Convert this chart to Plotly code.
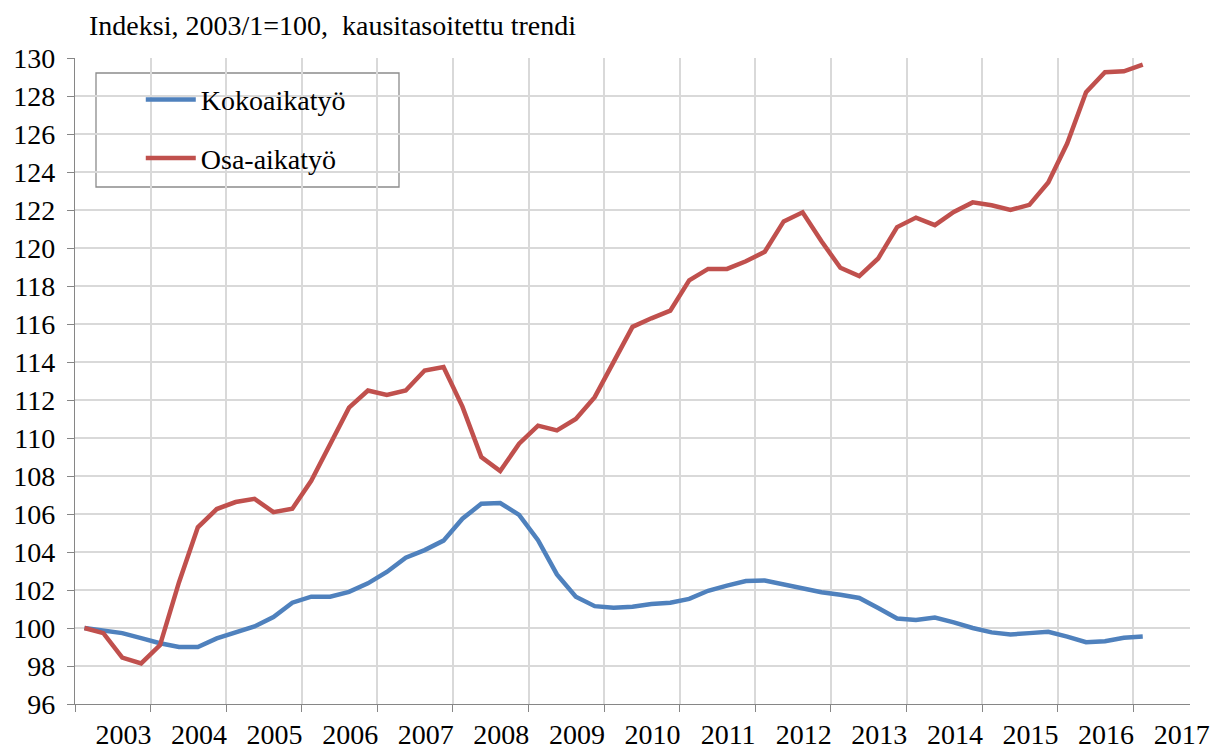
import plotly.graph_objects as go

# Quarterly periods 2003/1 .. 2017/1
periods = [f"{y}/{q}" for y in range(2003, 2017) for q in range(1, 5)] + ["2017/1"]

kokoaikatyo = [
    100.0, 99.88, 99.73, 99.47,
    99.2, 99.0, 99.0, 99.45,
    99.77, 100.08, 100.58, 101.33,
    101.65, 101.65, 101.9, 102.35,
    102.95, 103.7, 104.1, 104.6,
    105.75, 106.54, 106.58, 105.95,
    104.62, 102.82, 101.65, 101.15,
    101.07, 101.12, 101.26, 101.33,
    101.53, 101.96, 102.23, 102.47,
    102.5, 102.3, 102.09, 101.88,
    101.75, 101.58, 101.05, 100.5,
    100.42, 100.55, 100.3, 100.0,
    99.77, 99.66, 99.73, 99.8,
    99.55, 99.25, 99.3, 99.49,
    99.55,
]

osa_aikatyo = [
    100.0, 99.73, 98.44, 98.14,
    99.1, 102.4, 105.3, 106.26,
    106.63, 106.8, 106.1, 106.28,
    107.75, 109.7, 111.6, 112.5,
    112.27, 112.5, 113.55, 113.73,
    111.65, 109.0, 108.26, 109.7,
    110.65, 110.4, 111.0, 112.15,
    114.05, 115.85, 116.3, 116.7,
    118.3, 118.9, 118.9, 119.3,
    119.8, 121.4, 121.88, 120.35,
    118.96, 118.52, 119.45, 121.1,
    121.6, 121.2, 121.9, 122.4,
    122.25, 122.0, 122.27, 123.45,
    125.5, 128.2, 129.25, 129.3,
    129.65,
]

year_labels = list(range(2003, 2018))
y_ticks = list(range(96, 131, 2))


def period_to_x(p):
    y, q = p.split("/")
    return int(y) + (int(q) - 0.5) / 4.0


x = [period_to_x(p) for p in periods]

FONT = "Times New Roman, Liberation Serif, Tinos, DejaVu Serif, serif"
GRID = "#d9d9d9"
AXIS = "#868686"

# page body has an 8px margin: figure is shifted by 8px right and down
W, H = 1210, 743
ML, MT, MR, MB = 67, 50, 28, 47
PW, PH = W - ML - MR, H - MT - MB

fig = go.Figure()
fig.add_trace(go.Scatter(x=x, y=kokoaikatyo, mode="lines", name="Kokoaikatyö",
                         line=dict(color="#4F81BD", width=4.5), legendgroup="a"))
fig.add_trace(go.Scatter(x=x, y=osa_aikatyo, mode="lines", name="Osa-aikatyö",
                         line=dict(color="#C0504D", width=4.5), legendgroup="b"))

fig.update_layout(
    template="none",
    width=W, height=H,
    margin=dict(l=ML, r=MR, t=MT, b=MB, autoexpand=False),
    paper_bgcolor="white", plot_bgcolor="white",
    font=dict(family=FONT, size=28, color="black"),
    showlegend=True,
    legend=dict(x=0.059, y=0.974, xanchor="left", yanchor="top",
                bgcolor="rgba(0,0,0,0)", borderwidth=0,
                font=dict(family=FONT, size=28, color="black"),
                tracegroupgap=19, itemwidth=50),
    xaxis=dict(
        range=[2003, 2017.75],
        automargin=False,
        tickmode="array",
        tickvals=[yv + 0.64 for yv in year_labels],
        ticktext=[str(yv) for yv in year_labels],
        ticks="", showgrid=False, zeroline=False,
        showline=True, linecolor=AXIS, linewidth=1.3,
        tickfont=dict(family=FONT, size=28, color="black"),
        ticklabelstandoff=5,
        minor=dict(tick0=2003, dtick=1, ticks="outside", ticklen=7,
                   tickcolor=AXIS, tickwidth=1.3,
                   showgrid=True, gridcolor=GRID, gridwidth=1.5),
        fixedrange=True,
    ),
    yaxis=dict(
        range=[96, 130],
        automargin=False,
        tickmode="array", tickvals=y_ticks,
        ticks="outside", ticklen=7, tickcolor=AXIS, tickwidth=1.3,
        showgrid=True, gridcolor=GRID, gridwidth=1.5,
        zeroline=False, showline=True, linecolor=AXIS, linewidth=1.3,
        tickfont=dict(family=FONT, size=28, color="black"),
        ticklabelstandoff=6,
        fixedrange=True,
    ),
    annotations=[dict(
        text="Indeksi, 2003/1=100,&nbsp; kausitasoitettu trendi",
        xref="paper", yref="paper", x=0, y=1, xanchor="left", yanchor="bottom",
        xshift=12, yshift=15, showarrow=False,
        font=dict(family=FONT, size=28, color="black"),
    )],
    shapes=[dict(
        type="rect", xref="paper", yref="paper",
        x0=(96 - 75) / PW, x1=(399 - 75) / PW,
        y0=1 - (187 - 58) / PH, y1=1 - (73 - 58) / PH,
        line=dict(color="#8c8c8c", width=1.3), fillcolor="white", layer="below",
    )],
)

fig.write_html("out.html")
